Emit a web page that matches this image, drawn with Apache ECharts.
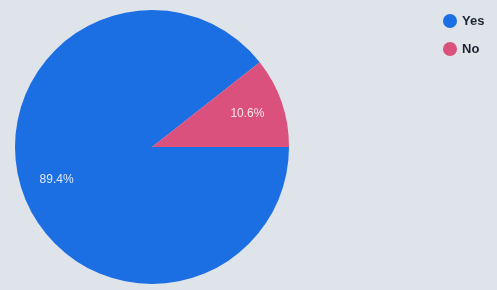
<!DOCTYPE html>
<html>
<head>
<meta charset="utf-8">
<script src="https://cdn.jsdelivr.net/npm/echarts@6/dist/echarts.min.js"></script>
<style>
    html, body { margin: 0; padding: 0; background: #dfe4ea; }
    #chart { width: 497px; height: 290px; }
</style>
</head>
<body>
<div id="chart"></div>
<script>
    var categories = ['Yes', 'No'];
    var values = [89.4, 10.6];
    var colors = ['#1c6ee3', '#d9517c'];

    var pieData = categories.map(function (name, i) {
        return { name: name, value: values[i], itemStyle: { color: colors[i] } };
    });

    var myChart = echarts.init(document.getElementById('chart'));
    var option = {
        backgroundColor: '#dfe4ea',
        animation: false,
        legend: {
            orient: 'vertical',
            left: 438,
            top: 9,
            icon: 'circle',
            itemWidth: 14,
            itemHeight: 14,
            itemGap: 14,
            data: categories,
            textStyle: { color: '#1d2430', fontSize: 13, fontWeight: 'bold', fontFamily: 'Liberation Sans' }
        },
        series: [
            {
                // the pie itself
                type: 'pie',
                center: [152, 147],
                radius: [0, 137],
                startAngle: 0,
                label: { show: false },
                labelLine: { show: false },
                data: pieData
            },
            {
                // label carrier: same slices, transparent, so labels sit further out
                type: 'pie',
                center: [152, 147],
                radius: [66, 130],
                startAngle: 0,
                silent: true,
                legendHoverLink: false,
                itemStyle: { color: 'rgba(0,0,0,0)' },
                label: {
                    show: true,
                    position: 'inside',
                    formatter: function (p) { return p.value.toFixed(1) + '%'; },
                    color: 'rgba(255,255,255,0.85)',
                    fontSize: 12,
                    fontFamily: 'Liberation Sans'
                },
                data: values.map(function (v, i) { return { name: categories[i], value: v }; })
            }
        ]
    };
    myChart.setOption(option);
</script>
</body>
</html>
